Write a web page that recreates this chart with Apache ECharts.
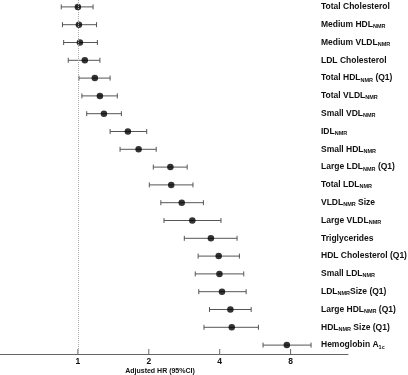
<!DOCTYPE html>
<html>
<head>
<meta charset="utf-8">
<script src="https://cdn.jsdelivr.net/npm/echarts@6/dist/echarts.min.js"></script>
<style>
  html, body { margin: 0; padding: 0; background: #fff; }
  #chart { width: 408px; height: 375px; }
</style>
</head>
<body>
<div id="chart"></div>
<script>
// {xxx} marks a subscript
const categories = [
  'Total Cholesterol', 'Medium HDL{NMR}', 'Medium VLDL{NMR}', 'LDL Cholesterol',
  'Total HDL{NMR} (Q1)', 'Total VLDL{NMR}', 'Small VDL{NMR}', 'IDL{NMR}',
  'Small HDL{NMR}', 'Large LDL{NMR} (Q1)', 'Total LDL{NMR}', 'VLDL{NMR} Size',
  'Large VLDL{NMR}', 'Triglycerides', 'HDL Cholesterol (Q1)', 'Small LDL{NMR}',
  'LDL{NMR}Size (Q1)', 'Large HDL{NMR} (Q1)', 'HDL{NMR} Size (Q1)', 'Hemoglobin A{1c}'
];
const hr    = [1.00, 1.01, 1.02, 1.07, 1.18, 1.24, 1.29, 1.63, 1.81, 2.47, 2.49, 2.76, 3.06, 3.67, 3.96, 3.99, 4.09, 4.44, 4.50, 7.71];
const lower = [0.85, 0.86, 0.87, 0.91, 1.01, 1.04, 1.09, 1.37, 1.51, 2.09, 2.01, 2.25, 2.32, 2.83, 3.24, 3.15, 3.26, 3.62, 3.43, 6.11];
const upper = [1.16, 1.20, 1.21, 1.24, 1.37, 1.47, 1.53, 1.96, 2.15, 2.91, 3.08, 3.41, 4.05, 4.74, 4.85, 5.06, 5.18, 5.44, 5.84, 9.77];
const xTicks = [1, 2, 4, 8];

const chart = echarts.init(document.getElementById('chart'));
const font = '"Liberation Sans", Arial, sans-serif';

chart.setOption({
  animation: false,
  grid: { left: 0, right: 60, top: -2, bottom: 21, containLabel: false, outerBoundsMode: 'none' },
  xAxis: {
    type: 'log',
    logBase: 2,
    min: 0.467,
    max: 14.02,
    name: 'Adjusted HR (95%CI)',
    nameLocation: 'middle',
    nameGap: 14,
    nameMoveOverlap: false,
    nameTextStyle: { fontFamily: font, fontWeight: 'bold', fontSize: 7, color: '#111', padding: [0, 28, 0, 0] },
    axisLine: { show: true, onZero: false, lineStyle: { color: '#666', width: 1 } },
    axisTick: { show: false },
    axisLabel: { customValues: xTicks, margin: 3, fontFamily: font, fontWeight: 'bold', fontSize: 8.5, color: '#111' },
    splitLine: { show: false }
  },
  yAxis: {
    type: 'category',
    data: categories,
    inverse: true,
    position: 'right',
    axisLine: { show: false },
    axisTick: { show: false },
    splitLine: { show: false },
    axisLabel: {
      align: 'left',
      margin: -27,
      fontFamily: font,
      fontWeight: 'bold',
      fontSize: 8.5,
      lineHeight: 10,
      color: '#111',
      formatter: v => v.replace(/\{(\w+)\}/g, '{s|$1}'),
      rich: {
        s: { fontFamily: font, fontWeight: 'bold', fontSize: 5.5, lineHeight: 4, verticalAlign: 'bottom', color: '#111' }
      }
    }
  },
  series: [
    {
      // x-axis tick marks at 1, 2, 4, 8 (pointing up)
      type: 'custom',
      silent: true,
      z: 1,
      data: xTicks.map(v => [v, 0]),
      renderItem: function (params, api) {
        const x = api.coord([api.value(0), 0])[0];
        const y = params.coordSys.y + params.coordSys.height;
        return { type: 'line', shape: { x1: x, y1: y, x2: x, y2: y - 5 }, style: { stroke: '#666', lineWidth: 1 } };
      },
      encode: { x: 0, y: 1 }
    },
    {
      type: 'custom',
      z: 2,
      data: categories.map((c, i) => [lower[i], upper[i], i]),
      renderItem: function (params, api) {
        const y = api.value(2);
        const a = api.coord([api.value(0), y]);
        const b = api.coord([api.value(1), y]);
        const cap = 2.5;
        const style = { stroke: '#555', lineWidth: 1 };
        return {
          type: 'group',
          children: [
            { type: 'line', shape: { x1: a[0], y1: a[1], x2: b[0], y2: b[1] }, style },
            { type: 'line', shape: { x1: a[0], y1: a[1] - cap, x2: a[0], y2: a[1] + cap }, style },
            { type: 'line', shape: { x1: b[0], y1: b[1] - cap, x2: b[0], y2: b[1] + cap }, style }
          ]
        };
      },
      encode: { x: [0, 1], y: 2 }
    },
    {
      type: 'scatter',
      z: 3,
      symbol: 'circle',
      symbolSize: 6.5,
      itemStyle: { color: '#000' },
      data: hr.map((v, i) => [v, i]),
      markLine: {
        silent: true,
        symbol: 'none',
        label: { show: false },
        lineStyle: { color: '#aaa', type: 'dotted', width: 1 },
        data: [{ xAxis: 1 }]
      }
    }
  ]
});

window.addEventListener('resize', function () {
  chart.resize();
});
</script>
</body>
</html>
